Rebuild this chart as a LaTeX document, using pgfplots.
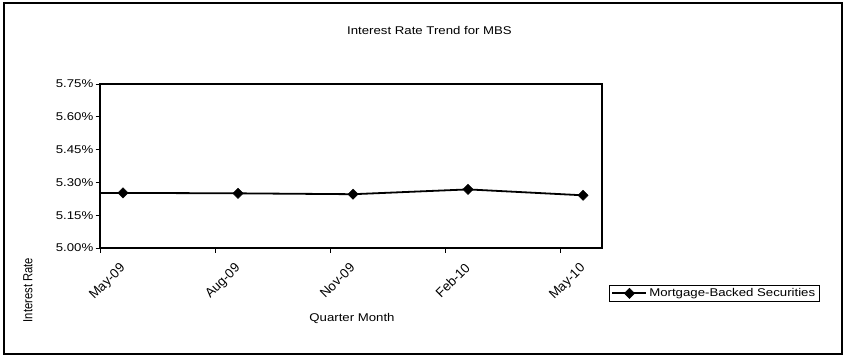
\documentclass[border=0pt]{standalone}
\usepackage{fontspec}
\setmainfont{Liberation Sans}
\usepackage{graphicx}
\usepackage{pgfplots}
\pgfplotsset{compat=1.18}
% slightly flattened lettering
\newcommand\sq[1]{\scalebox{1}[0.85]{#1}}
\newcommand\chartfont{\fontsize{13.2bp}{15bp}\selectfont}

\begin{document}
\begin{tikzpicture}[x=1bp,y=1bp]
\path (0,0) rectangle (843,357);
% chart area frame
\draw[line width=1.4bp] (4,3) rectangle (842,354);
\node[font=\chartfont] at (429.5,326.5) {\sq{Interest Rate Trend for MBS}};
\node[font=\chartfont] at (352,39) {\sq{Quarter Month}};
\node[font=\chartfont, rotate=90] at (28,67) {\scalebox{0.85}[1]{Interest Rate}};
\begin{axis}[
  at={(100bp,109bp)}, anchor=south west,
  scale only axis, width=502bp, height=164bp,
  xmin=0, xmax=4.365, ymin=5.00, ymax=5.75,
  xtick={0,1,2,3,4},
  xticklabels={May-09,Aug-09,Nov-09,Feb-10,May-10},
  ytick={5.00,5.15,5.30,5.45,5.60,5.75},
  yticklabels={\sq{5.00\%},\sq{5.15\%},\sq{5.30\%},\sq{5.45\%},\sq{5.60\%},\sq{5.75\%}},
  xtick pos=bottom, ytick pos=left,
  tick align=outside,
  major tick length=4.5bp,
  axis line style={line width=1.3bp},
  every tick/.style={black, line width=1bp},
  tick label style={font=\chartfont},
  x tick label style={xshift=19bp, yshift=-8bp, rotate=45, anchor=north east, inner sep=1bp},
  y tick label style={inner sep=2bp},
  legend style={at={(1.014,-0.226)}, anchor=north west, draw=black, line width=1bp,
    font=\chartfont, inner xsep=2bp, inner ysep=1bp,
    nodes={inner sep=2bp}},
  legend image code/.code={
    \draw[#1, mark repeat=2, mark phase=2] plot coordinates {(0bp,0bp) (17bp,0bp) (34bp,0bp)};
  },
]
% earlier quarter, running in from the left edge
\addplot[black, line width=1.8bp, forget plot] coordinates {(-0.8,5.252) (0.2,5.252)};
\addplot[black, line width=1.8bp, mark=square*, mark size=3.6bp, mark options={rotate=45, line width=0.5bp}]
  coordinates {(0.2,5.252) (1.2,5.250) (2.2,5.246) (3.2,5.268) (4.2,5.241)};
\addlegendentry{\sq{Mortgage-Backed Securities}}
\end{axis}
\end{tikzpicture}
\end{document}
